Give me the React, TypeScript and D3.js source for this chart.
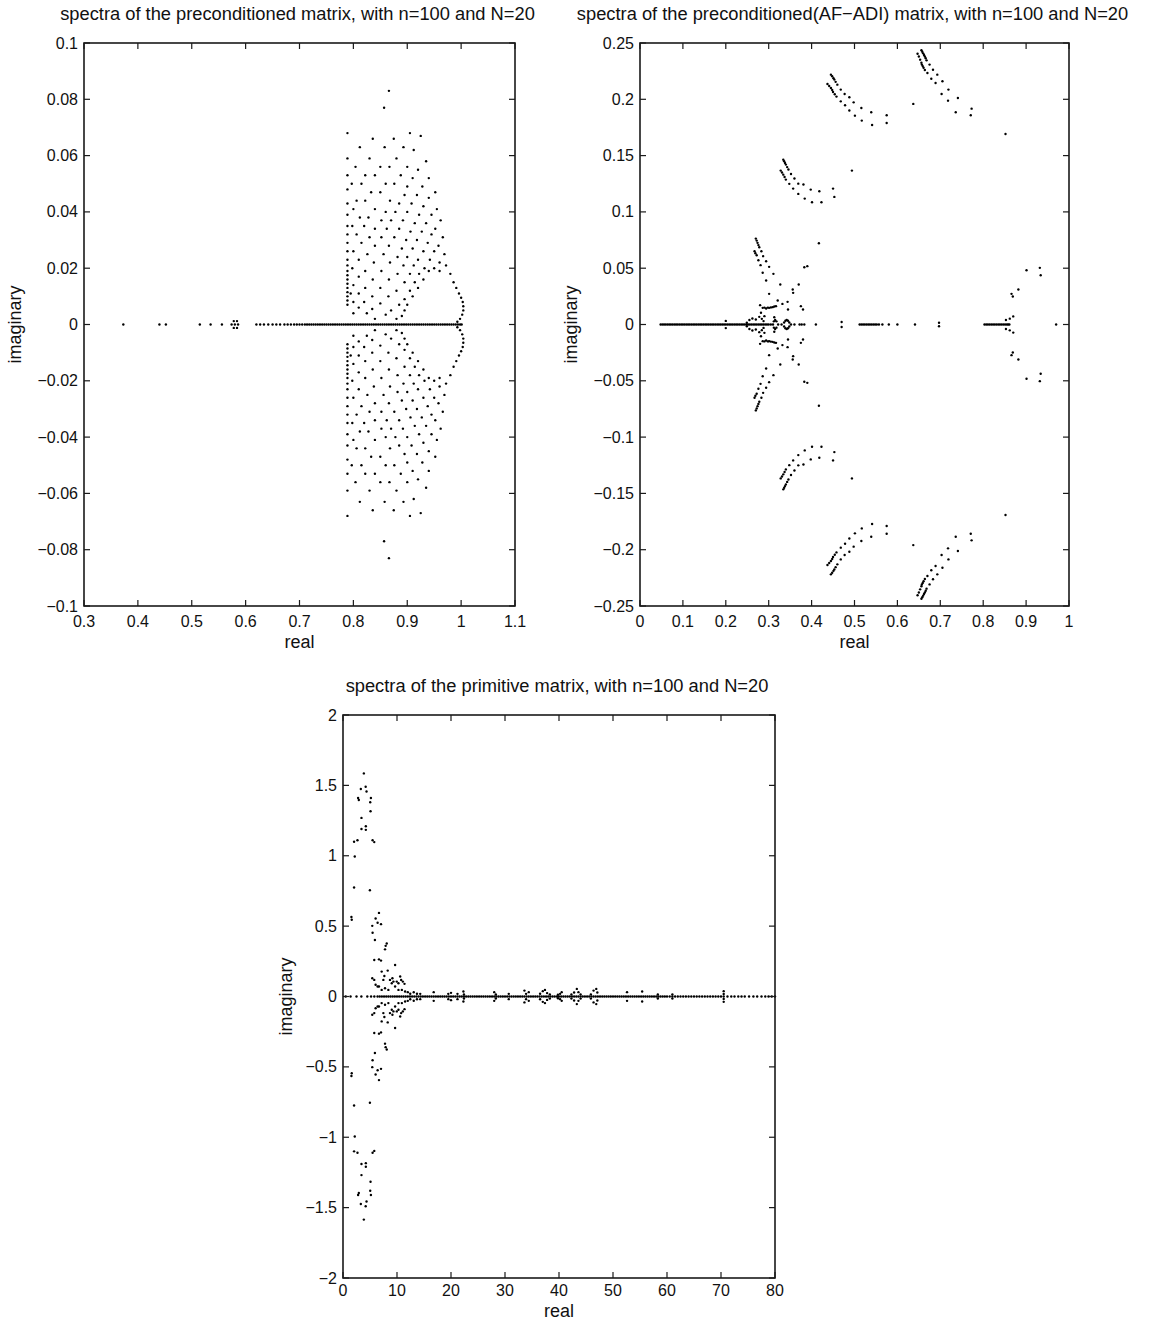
import React from 'react';
import * as d3 from 'd3';

type Pt = [number, number];

// ---------------- Panel 1: preconditioned matrix ----------------
const p1Title = 'spectra of the preconditioned matrix, with n=100 and N=20';
const p1XTicks = [0.3, 0.4, 0.5, 0.6, 0.7, 0.8, 0.9, 1, 1.1];
const p1XTickLabels = ['0.3', '0.4', '0.5', '0.6', '0.7', '0.8', '0.9', '1', '1.1'];
const p1YTicks = [0.1, 0.08, 0.06, 0.04, 0.02, 0, -0.02, -0.04, -0.06, -0.08, -0.1];
const p1YTickLabels = ['0.1', '0.08', '0.06', '0.04', '0.02', '0', '\u22120.02', '\u22120.04', '\u22120.06', '\u22120.08', '\u22120.1'];

// eigenvalues lying on the real axis
const p1Real = [
  0.373, 0.44, 0.452, 0.515, 0.535, 0.556, 0.574, 0.58, 0.586, 0.62, 0.627, 0.634, 0.642, 0.65, 0.657,
  0.664, 0.672, 0.678, 0.684, 0.69, 0.695, 0.7, 0.705, 0.71, 0.714, 0.718, 0.722, 0.726,
  0.730, 0.734, 0.738, 0.742, 0.746, 0.750, 0.754, 0.758, 0.762, 0.766, 0.770, 0.774, 0.778, 0.782,
  0.786, 0.790, 0.794, 0.798, 0.802, 0.806, 0.810, 0.814, 0.818, 0.822, 0.826, 0.830, 0.834, 0.838,
  0.842, 0.846, 0.850, 0.854, 0.858, 0.862, 0.866, 0.870, 0.874, 0.878, 0.882, 0.886, 0.890, 0.894,
  0.898, 0.902, 0.906, 0.910, 0.914, 0.918, 0.922, 0.926, 0.930, 0.934, 0.938, 0.942, 0.946, 0.950,
  0.954, 0.958, 0.962, 0.966, 0.970, 0.974, 0.978, 0.982, 0.986, 0.990, 0.994, 0.998, 1.001,
];

// upper half (imag > 0); conjugates are drawn mirrored
const p1Upper: Pt[] = [
  [0.578, 0.0012], [0.584, 0.0012],
  // left edge column
  [0.789, 0.007], [0.789, 0.0085], [0.789, 0.010], [0.789, 0.0115], [0.789, 0.013], [0.789, 0.0145],
  [0.789, 0.016], [0.789, 0.0175], [0.789, 0.019], [0.789, 0.021], [0.789, 0.023], [0.789, 0.026],
  [0.789, 0.029], [0.789, 0.032], [0.789, 0.035], [0.789, 0.039], [0.789, 0.043], [0.789, 0.048],
  [0.789, 0.053], [0.789, 0.059], [0.789, 0.068],
  // lattice rows
  [0.866, 0.083], [0.857, 0.077],
  [0.905, 0.068], [0.925, 0.067],
  [0.836, 0.066], [0.875, 0.066],
  [0.812, 0.063], [0.858, 0.063], [0.893, 0.063], [0.912, 0.062],
  [0.83, 0.059], [0.88, 0.059], [0.935, 0.058],
  [0.804, 0.056], [0.85, 0.056], [0.867, 0.056], [0.9, 0.056], [0.92, 0.055],
  [0.822, 0.053], [0.84, 0.053], [0.888, 0.053], [0.91, 0.052], [0.94, 0.052],
  [0.797, 0.050], [0.815, 0.050], [0.86, 0.050], [0.876, 0.050], [0.9, 0.049], [0.928, 0.049], [0.952, 0.047],
  [0.833, 0.047], [0.85, 0.047], [0.895, 0.046], [0.918, 0.046], [0.94, 0.045],
  [0.806, 0.044], [0.822, 0.044], [0.868, 0.044], [0.885, 0.043], [0.908, 0.043], [0.93, 0.042], [0.955, 0.041],
  [0.8, 0.041], [0.84, 0.041], [0.86, 0.040], [0.878, 0.040], [0.9, 0.040], [0.922, 0.039], [0.945, 0.039], [0.962, 0.037],
  [0.812, 0.038], [0.828, 0.038], [0.852, 0.037], [0.87, 0.037], [0.892, 0.037], [0.914, 0.036], [0.935, 0.036], [0.952, 0.034],
  [0.798, 0.035], [0.82, 0.035], [0.84, 0.034], [0.862, 0.034], [0.885, 0.034], [0.906, 0.033], [0.927, 0.033], [0.945, 0.032], [0.966, 0.031],
  [0.806, 0.032], [0.83, 0.031], [0.852, 0.031], [0.876, 0.031], [0.898, 0.030], [0.918, 0.030], [0.938, 0.029], [0.958, 0.028],
  [0.815, 0.029], [0.84, 0.028], [0.866, 0.028], [0.89, 0.027], [0.91, 0.027], [0.93, 0.026], [0.95, 0.026], [0.969, 0.025],
  [0.8, 0.026], [0.826, 0.025], [0.856, 0.025], [0.882, 0.024], [0.9, 0.024], [0.92, 0.023], [0.942, 0.023], [0.96, 0.022],
  [0.81, 0.023], [0.838, 0.022], [0.868, 0.022], [0.893, 0.021], [0.912, 0.021], [0.932, 0.020], [0.95, 0.020], [0.972, 0.021],
  [0.798, 0.020], [0.822, 0.019], [0.852, 0.019], [0.882, 0.018], [0.905, 0.018], [0.922, 0.018], [0.94, 0.019], [0.96, 0.019], [0.98, 0.018],
  [0.81, 0.017], [0.836, 0.016], [0.866, 0.016], [0.895, 0.015], [0.914, 0.015], [0.93, 0.016], [0.986, 0.015],
  [0.8, 0.014], [0.822, 0.013], [0.85, 0.013], [0.88, 0.012], [0.905, 0.012], [0.92, 0.013], [0.991, 0.013],
  [0.795, 0.011], [0.81, 0.011], [0.835, 0.010], [0.865, 0.010], [0.895, 0.009], [0.91, 0.010], [0.996, 0.011], [1.0, 0.0095],
  [0.8, 0.008], [0.82, 0.008], [0.85, 0.0075], [0.885, 0.007], [0.9, 0.007], [1.003, 0.008], [1.004, 0.0065],
  [0.81, 0.006], [0.835, 0.0055], [0.87, 0.005], [0.895, 0.005], [1.004, 0.005],
  [0.8, 0.004], [0.825, 0.004], [0.86, 0.0035], [0.89, 0.003], [1.002, 0.0035],
  [0.84, 0.002], [0.88, 0.002], [0.998, 0.002], [0.993, 0.001],
];

// ---------------- Panel 2: preconditioned (AF-ADI) ----------------
const p2Title = 'spectra of the preconditioned(AF\u2212ADI) matrix, with n=100 and N=20';
const p2XTicks = [0, 0.1, 0.2, 0.3, 0.4, 0.5, 0.6, 0.7, 0.8, 0.9, 1];
const p2XTickLabels = ['0', '0.1', '0.2', '0.3', '0.4', '0.5', '0.6', '0.7', '0.8', '0.9', '1'];
const p2YTicks = [0.25, 0.2, 0.15, 0.1, 0.05, 0, -0.05, -0.1, -0.15, -0.2, -0.25];
const p2YTickLabels = ['0.25', '0.2', '0.15', '0.1', '0.05', '0', '\u22120.05', '\u22120.1', '\u22120.15', '\u22120.2', '\u22120.25'];

const p2Real = [
  0.048, 0.052, 0.056, 0.060, 0.064, 0.068, 0.072, 0.076, 0.080, 0.084, 0.088, 0.092, 0.096, 0.100,
  0.104, 0.108, 0.112, 0.116, 0.120, 0.124, 0.128, 0.132, 0.136, 0.140, 0.144, 0.148, 0.152, 0.156,
  0.160, 0.164, 0.168, 0.172, 0.176, 0.180, 0.184, 0.188, 0.192, 0.196, 0.200, 0.204, 0.208, 0.212,
  0.216, 0.220, 0.224, 0.228, 0.232, 0.236, 0.240, 0.244, 0.248, 0.252, 0.256, 0.260, 0.264, 0.268,
  0.272, 0.276, 0.280, 0.284, 0.288, 0.292, 0.296, 0.300, 0.305, 0.310, 0.322, 0.330, 0.352, 0.360,
  0.372, 0.377, 0.383, 0.410, 0.512, 0.516, 0.520, 0.524, 0.528, 0.532, 0.536, 0.540, 0.544, 0.548,
  0.552, 0.557, 0.565, 0.580, 0.600, 0.641, 0.803, 0.807, 0.811, 0.815, 0.819, 0.823, 0.827, 0.831,
  0.835, 0.839, 0.843, 0.847, 0.851, 0.855, 0.858, 0.861, 0.970,
];

const p2Upper: Pt[] = [
  // top-right arc, strand 1
  [0.656, 0.2435], [0.658, 0.2422], [0.660, 0.2408], [0.662, 0.2394], [0.664, 0.2380], [0.666, 0.2364],
  [0.668, 0.2346], [0.675, 0.2308], [0.683, 0.2263], [0.693, 0.2219], [0.705, 0.216], [0.719, 0.2086],
  [0.741, 0.2012], [0.773, 0.1917],
  // top-right arc, strand 2
  [0.647, 0.2405], [0.650, 0.2380], [0.653, 0.2352], [0.656, 0.2325], [0.657, 0.2308], [0.659, 0.2295],
  [0.661, 0.2280], [0.664, 0.226], [0.670, 0.2234], [0.679, 0.2183], [0.689, 0.2145], [0.703, 0.2047],
  [0.718, 0.1988], [0.736, 0.1885], [0.771, 0.1858],
  [0.637, 0.1959], [0.852, 0.1692],
  // middle-top arc, strand 1
  [0.445, 0.2219], [0.448, 0.2205], [0.451, 0.2188], [0.453, 0.2175], [0.456, 0.2155], [0.460, 0.213],
  [0.468, 0.2086], [0.477, 0.2047], [0.488, 0.2018], [0.498, 0.1973], [0.516, 0.1923], [0.539, 0.1885],
  [0.575, 0.1858],
  // middle-top arc, strand 2
  [0.437, 0.2136], [0.441, 0.2118], [0.445, 0.21], [0.448, 0.2082], [0.450, 0.2065], [0.454, 0.2045],
  [0.458, 0.2024], [0.468, 0.1982], [0.478, 0.1947], [0.488, 0.19], [0.501, 0.1855], [0.517, 0.1811],
  [0.541, 0.1772], [0.575, 0.179],
  [0.494, 0.1367],
  // third arc, strand 1
  [0.334, 0.1464], [0.336, 0.1450], [0.338, 0.1435], [0.340, 0.142], [0.343, 0.1398], [0.346, 0.1376],
  [0.352, 0.1337], [0.360, 0.1296], [0.369, 0.1251], [0.381, 0.1243], [0.398, 0.1198], [0.418, 0.1183],
  [0.450, 0.1207],
  // third arc, strand 2
  [0.328, 0.1367], [0.331, 0.1350], [0.334, 0.1331], [0.337, 0.1310], [0.340, 0.1287], [0.348, 0.1249],
  [0.357, 0.1207], [0.369, 0.116], [0.384, 0.1118], [0.401, 0.1086], [0.423, 0.1086], [0.453, 0.1133],
  [0.417, 0.0722],
  // low cluster near 0.27–0.38
  [0.270, 0.0763], [0.272, 0.0745], [0.274, 0.0725], [0.276, 0.0705], [0.278, 0.0686], [0.283, 0.0651],
  [0.287, 0.0607], [0.294, 0.0562], [0.301, 0.0512], [0.311, 0.045],
  [0.267, 0.0651], [0.269, 0.0633], [0.272, 0.0615], [0.276, 0.0571], [0.281, 0.0527], [0.286, 0.0459],
  [0.294, 0.0391], [0.301, 0.0272],
  [0.327, 0.0355], [0.370, 0.0355], [0.356, 0.0311], [0.357, 0.0281], [0.383, 0.0509], [0.390, 0.0518],
  [0.321, 0.0213], [0.332, 0.0183], [0.344, 0.0201], [0.345, 0.0133], [0.375, 0.0163], [0.380, 0.0133],
  [0.280, 0.0172], [0.286, 0.0148], [0.290, 0.0150], [0.294, 0.0142], [0.298, 0.0150], [0.301, 0.0148],
  [0.305, 0.0152], [0.309, 0.0154], [0.313, 0.0160], [0.317, 0.0163],
  [0.282, 0.0104], [0.290, 0.0074], [0.313, 0.0065], [0.249, 0.0015], [0.255, 0.004], [0.262, 0.0053],
  [0.270, 0.0044], [0.278, 0.0068], [0.284, 0.0050], [0.288, 0.0030], [0.200, 0.0032],
  [0.312, 0.0028], [0.318, 0.0028], [0.315, 0.0040],
  [0.336, 0.0018], [0.339, 0.0033], [0.342, 0.0040], [0.345, 0.0033], [0.348, 0.0018],
  [0.470, 0.0022], [0.697, 0.0016],
  // right side
  [0.901, 0.0482], [0.932, 0.0503], [0.934, 0.0438], [0.882, 0.0311], [0.866, 0.0272], [0.869, 0.0249],
  [0.853, 0.0040], [0.862, 0.0052], [0.870, 0.0072],
];

// ---------------- Panel 3: primitive matrix ----------------
const p3Title = 'spectra of the primitive matrix, with n=100 and N=20';
const p3XTicks = [0, 10, 20, 30, 40, 50, 60, 70, 80];
const p3XTickLabels = ['0', '10', '20', '30', '40', '50', '60', '70', '80'];
const p3YTicks = [2, 1.5, 1, 0.5, 0, -0.5, -1, -1.5, -2];
const p3YTickLabels = ['2', '1.5', '1', '0.5', '0', '\u22120.5', '\u22121', '\u22121.5', '\u22122'];

const p3Real = [
  0.5, 1.4, 2.5, 3.4, 4.5, 5.2, 5.8,
  6.4, 6.8, 7.2, 7.6, 8.0, 8.4, 8.8, 9.2, 9.6, 10.0, 10.4, 10.8, 11.2, 11.6, 12.0, 12.4, 12.8, 13.2,
  13.6, 14.0, 14.4, 14.8, 15.2, 15.6, 16.0, 16.4, 16.8, 17.2, 17.6, 18.0, 18.4, 18.8, 19.2, 19.6, 20.0,
  20.4, 20.8, 21.2, 21.6, 22.0, 22.4, 22.8, 23.2, 23.6, 24.0, 24.4, 24.8, 25.2, 25.6, 26.0, 26.4, 26.8,
  27.2, 27.6, 28.0, 28.4, 28.8, 29.2, 29.6, 30.0, 30.4, 30.8, 31.2, 31.6, 32.0, 32.4, 32.8, 33.2, 33.6,
  34.0, 34.4, 34.8, 35.2, 35.6, 36.0, 36.4, 36.8, 37.2, 37.6, 38.0, 38.4, 38.8, 39.2, 39.6, 40.0, 40.4,
  40.8, 41.2, 41.6, 42.0, 42.4, 42.8, 43.2, 43.6, 44.0, 44.4, 44.8, 45.2, 45.6, 46.0, 46.4, 46.8, 47.2,
  47.6, 48.0, 48.4, 48.8, 49.2, 49.6, 50.0, 50.4, 50.8, 51.2, 51.6, 52.0, 52.4, 52.8, 53.2, 53.6, 54.0,
  54.4, 54.8, 55.2, 55.6, 56.0, 56.4, 56.8, 57.2, 57.6, 58.0, 58.4, 58.8, 59.2, 59.6, 60.0, 60.5, 61.0,
  61.5, 62.0, 62.5, 63.0, 63.5, 64.0, 64.5, 65.0, 65.5, 66.0, 66.5, 67.0, 67.5, 68.0, 68.5, 69.0, 69.5,
  70.0, 70.5, 71.2, 71.9, 72.5, 73.2, 73.8, 74.4, 75.2, 76.0, 76.7, 77.5, 78.2, 78.8, 79.4, 80.0,
];

const p3Upper: Pt[] = [
  [3.86, 1.585], [3.3, 1.474], [4.2, 1.49], [4.36, 1.457], [2.8, 1.41], [2.93, 1.396], [5.17, 1.41],
  [5.04, 1.38], [5.1, 1.316], [3.42, 1.269], [3.42, 1.19], [4.23, 1.21], [4.23, 1.184], [2.05, 1.10],
  [2.68, 1.11], [5.48, 1.11], [5.79, 1.097], [2.18, 0.995], [2.05, 0.774], [4.98, 0.755], [1.56, 0.565],
  [1.62, 0.545], [6.66, 0.594], [6.04, 0.554], [6.41, 0.524], [7.04, 0.514], [5.42, 0.502], [5.48, 0.453],
  [5.91, 0.401], [8.1, 0.377], [7.78, 0.335], [7.9, 0.36], [5.79, 0.259], [6.66, 0.264], [7.04, 0.255],
  [5.42, 0.13], [5.79, 0.118], [6.04, 0.083], [6.41, 0.071], [7.16, 0.177], [7.66, 0.146], [7.47, 0.118],
  [8.28, 0.184], [9.65, 0.224], [8.7, 0.118], [9.15, 0.13], [9.03, 0.094], [9.34, 0.106], [9.96, 0.106],
  [10.27, 0.094], [10.59, 0.142], [10.77, 0.118], [11.08, 0.106], [11.39, 0.09], [6.66, 0.071],
  [7.16, 0.047], [7.78, 0.059], [8.4, 0.047], [9.65, 0.071], [10.27, 0.047], [10.9, 0.047], [11.5, 0.035],
  [12.0, 0.031], [12.45, 0.02], [13.1, 0.03], [13.7, 0.02], [14.3, 0.019], [16.8, 0.031], [19.5, 0.019],
  [20.0, 0.026], [21.2, 0.019], [22.3, 0.035], [22.4, 0.014], [28.0, 0.031], [28.3, 0.014], [30.7, 0.019],
  [33.6, 0.042], [33.9, 0.019], [34.4, 0.031], [36.5, 0.02], [37.0, 0.038], [37.4, 0.047], [37.8, 0.024],
  [38.3, 0.015], [39.8, 0.012], [40.2, 0.019], [40.5, 0.031], [42.3, 0.015], [42.8, 0.028], [43.3, 0.054],
  [43.6, 0.031], [44.0, 0.015], [45.9, 0.015], [46.4, 0.042], [46.9, 0.054], [47.1, 0.028], [52.6, 0.031],
  [55.4, 0.035], [58.3, 0.014], [61.0, 0.014], [70.5, 0.038], [70.5, 0.018],
];

const FONT = '"Liberation Sans", Arial, Helvetica, sans-serif';

type Box = { l: number; r: number; t: number; b: number };

function Panel(props: {
  box: Box;
  xDomain: [number, number];
  yDomain: [number, number];
  xTicks: number[];
  xTickLabels: string[];
  yTicks: number[];
  yTickLabels: string[];
  title: string;
  yLabelX: number;
  xTickDy: number;
  xLabelDy: number;
  realPts: number[];
  upperPts: Pt[];
}) {
  const { box, xDomain, yDomain, xTicks, xTickLabels, yTicks, yTickLabels, title, yLabelX, xTickDy, xLabelDy, realPts, upperPts } = props;
  const x = d3.scaleLinear().domain(xDomain).range([box.l, box.r]);
  const y = d3.scaleLinear().domain(yDomain).range([box.b, box.t]);
  const tl = 6;
  const pts: Pt[] = [];
  realPts.forEach((v) => pts.push([v, 0]));
  upperPts.forEach(([a, b]) => {
    pts.push([a, b]);
    pts.push([a, -b]);
  });
  const axisColor = '#1a1a1a';
  return (
    <g>
      <text x={(box.l + box.r) / 2 - 2} y={box.t - 23} textAnchor="middle" fontFamily={FONT} fontSize={18.3} fill="#111">
        {title}
      </text>
      {pts.map(([a, b], i) => (
        <circle key={i} cx={x(a)} cy={y(b)} r={1.2} fill="#000" />
      ))}
      <rect x={box.l} y={box.t} width={box.r - box.l} height={box.b - box.t} fill="none" stroke={axisColor} strokeWidth={1.6} />
      {xTicks.map((t, i) => (
        <g key={'x' + i}>
          <line x1={x(t)} x2={x(t)} y1={box.b} y2={box.b - tl} stroke={axisColor} strokeWidth={1.2} />
          <line x1={x(t)} x2={x(t)} y1={box.t} y2={box.t + tl} stroke={axisColor} strokeWidth={1.2} />
          <text x={x(t)} y={box.b + xTickDy} textAnchor="middle" fontFamily={FONT} fontSize={16} fill="#111">
            {xTickLabels[i]}
          </text>
        </g>
      ))}
      {yTicks.map((t, i) => (
        <g key={'y' + i}>
          <line x1={box.l} x2={box.l + tl} y1={y(t)} y2={y(t)} stroke={axisColor} strokeWidth={1.2} />
          <line x1={box.r} x2={box.r - tl} y1={y(t)} y2={y(t)} stroke={axisColor} strokeWidth={1.2} />
          <text x={box.l - 6} y={y(t) + 5.5} textAnchor="end" fontFamily={FONT} fontSize={16} fill="#111">
            {yTickLabels[i]}
          </text>
        </g>
      ))}
      <text x={(box.l + box.r) / 2} y={box.b + xLabelDy} textAnchor="middle" fontFamily={FONT} fontSize={18} fill="#111">
        real
      </text>
      <text
        transform={`translate(${yLabelX},${(box.t + box.b) / 2}) rotate(-90)`}
        textAnchor="middle"
        fontFamily={FONT}
        fontSize={18}
        fill="#111"
      >
        imaginary
      </text>
    </g>
  );
}

export default function App() {
  return (
    <div style={{ position: 'absolute', left: 0, top: 0, background: '#fff' }}>
      <svg width={1152} height={1322} viewBox="0 0 1152 1322" style={{ display: 'block' }}>
        <rect x={0} y={0} width={1152} height={1322} fill="#fff" />
        <Panel
          box={{ l: 84, r: 515, t: 43, b: 606 }}
          xDomain={[0.3, 1.1]}
          yDomain={[-0.1, 0.1]}
          xTicks={p1XTicks}
          xTickLabels={p1XTickLabels}
          yTicks={p1YTicks}
          yTickLabels={p1YTickLabels}
          title={p1Title}
          yLabelX={21}
          xTickDy={21}
          xLabelDy={42}
          realPts={p1Real}
          upperPts={p1Upper}
        />
        <Panel
          box={{ l: 640, r: 1069, t: 43, b: 606 }}
          xDomain={[0, 1]}
          yDomain={[-0.25, 0.25]}
          xTicks={p2XTicks}
          xTickLabels={p2XTickLabels}
          yTicks={p2YTicks}
          yTickLabels={p2YTickLabels}
          title={p2Title}
          yLabelX={577}
          xTickDy={21}
          xLabelDy={42}
          realPts={p2Real}
          upperPts={p2Upper}
        />
        <Panel
          box={{ l: 343, r: 775, t: 715, b: 1278 }}
          xDomain={[0, 80]}
          yDomain={[-2, 2]}
          xTicks={p3XTicks}
          xTickLabels={p3XTickLabels}
          yTicks={p3YTicks}
          yTickLabels={p3YTickLabels}
          title={p3Title}
          yLabelX={292}
          xTickDy={18}
          xLabelDy={39}
          realPts={p3Real}
          upperPts={p3Upper}
        />
      </svg>
    </div>
  );
}
